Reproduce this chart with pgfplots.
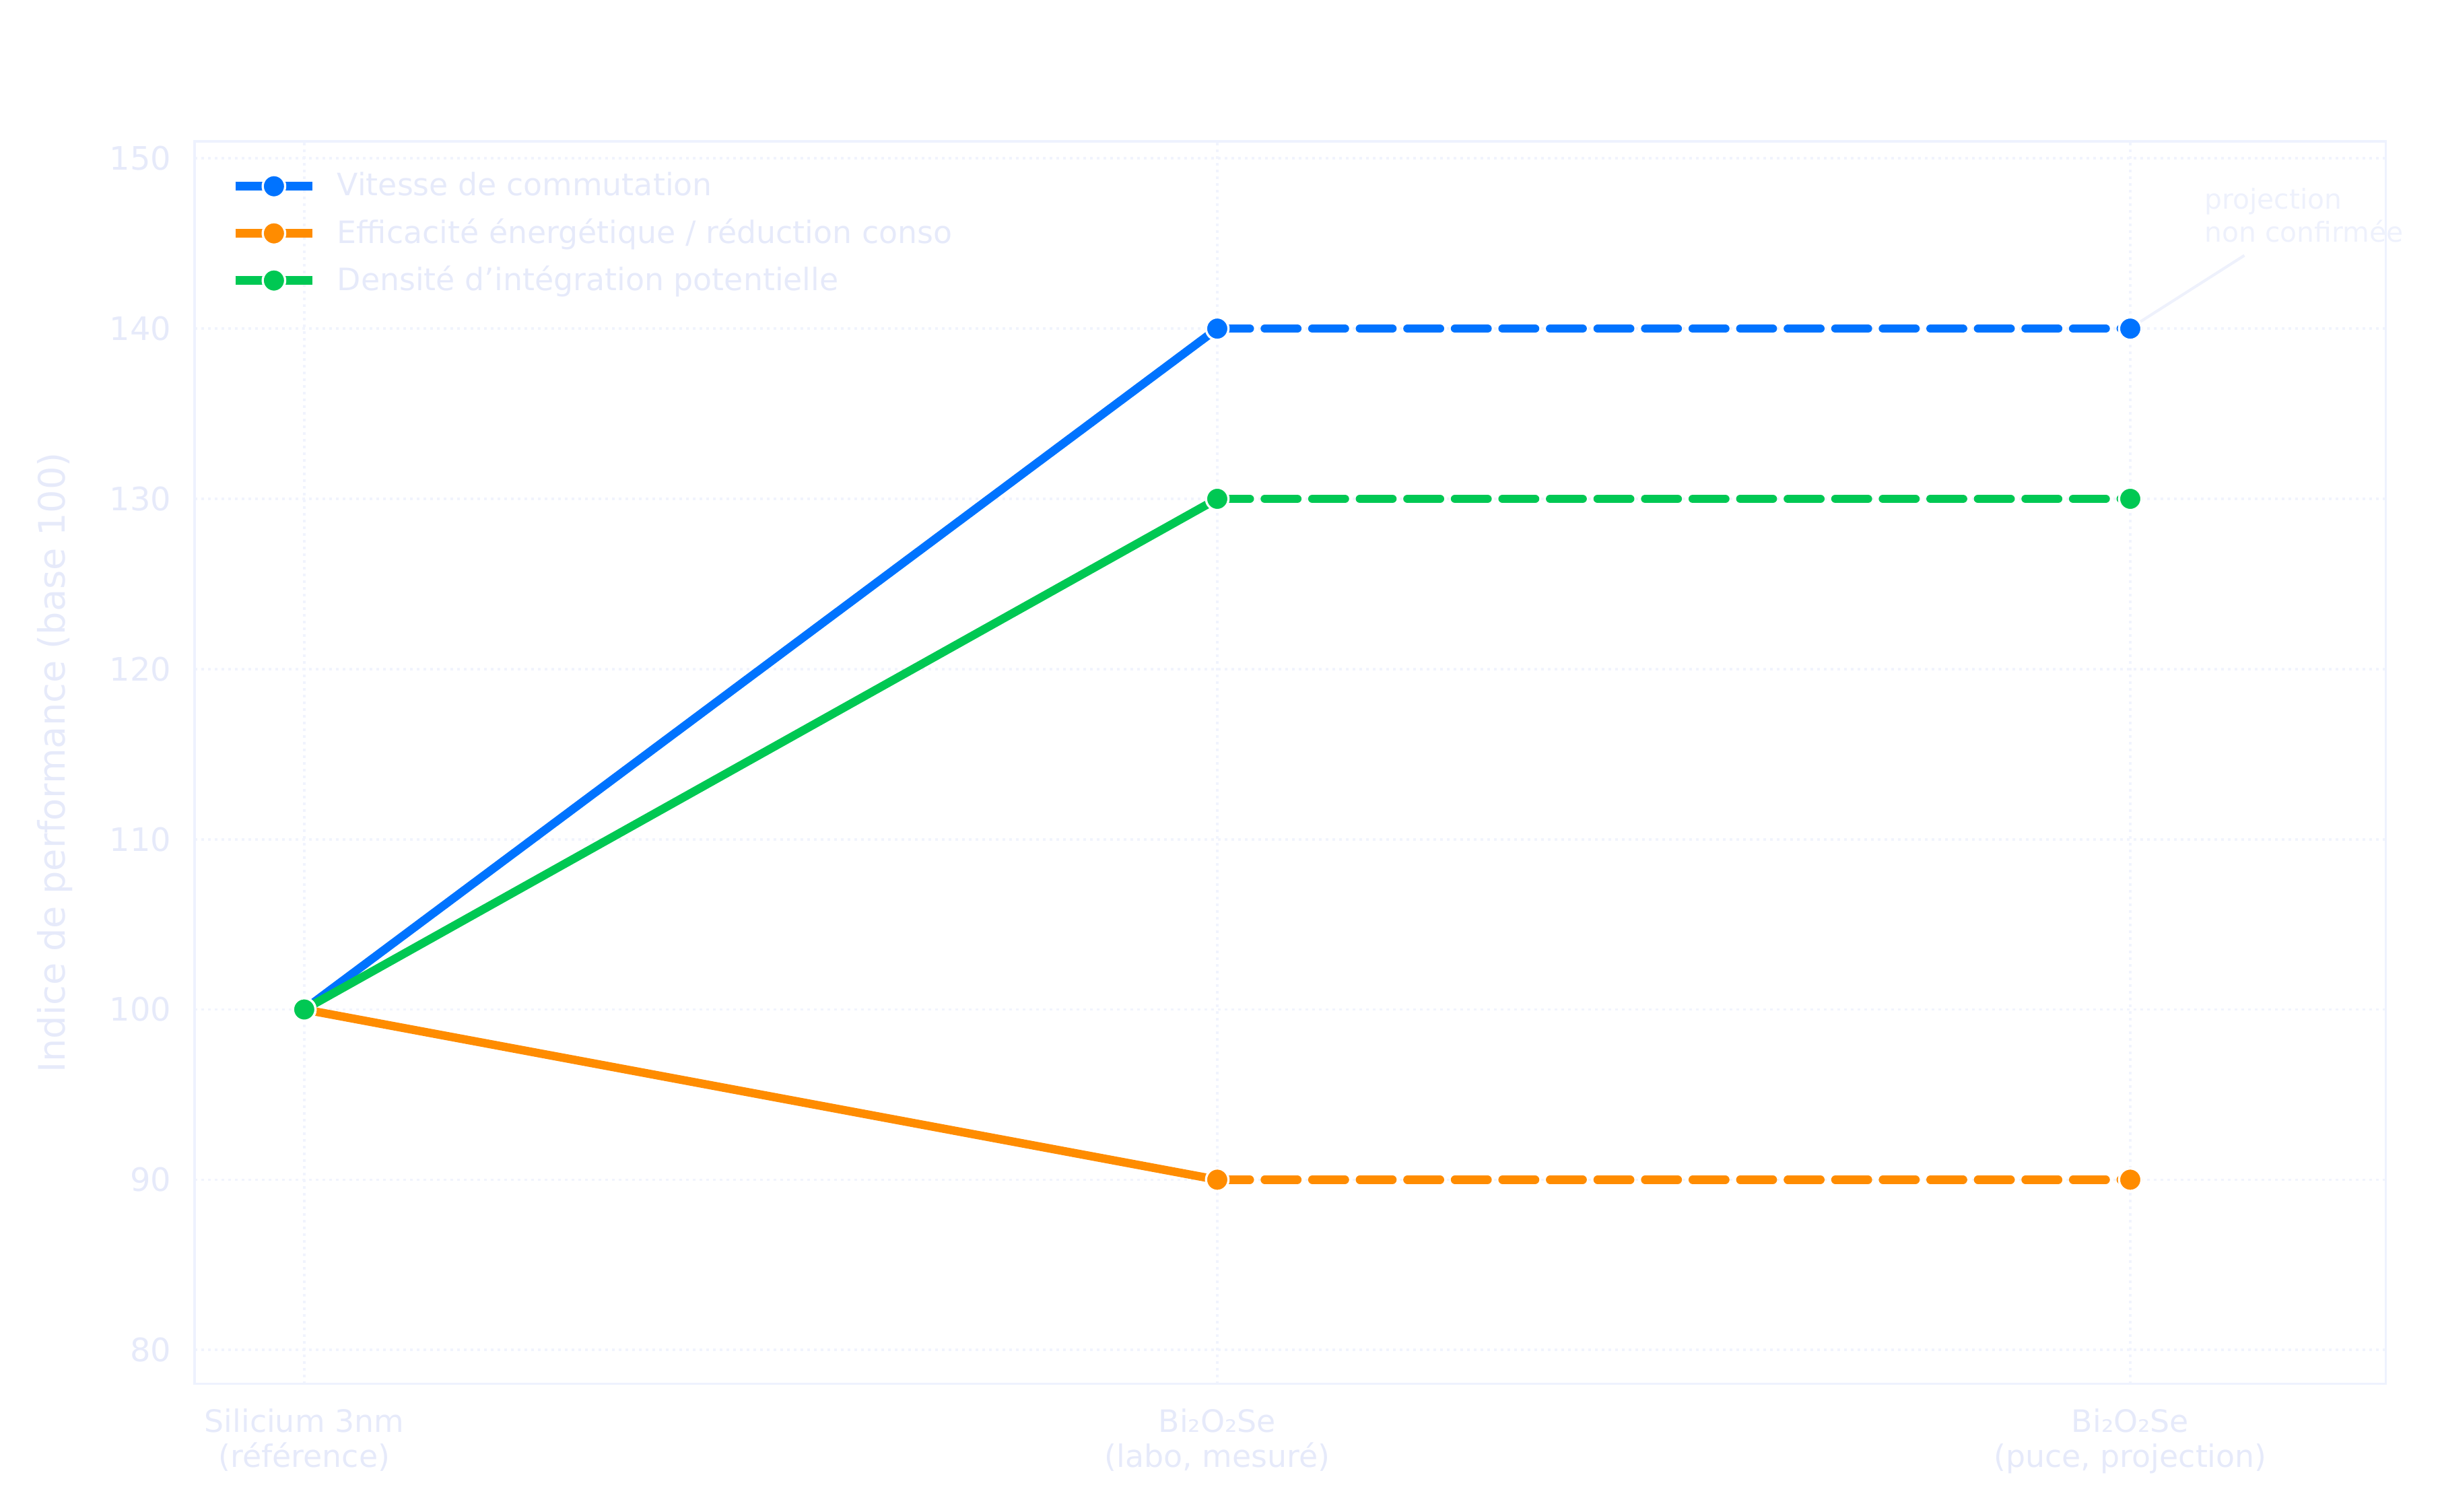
\documentclass[border=0pt]{standalone}
\usepackage{fontspec}
\setmainfont{DejaVu Sans}
\usepackage{pgfplots}
\pgfplotsset{compat=1.18}

\definecolor{cblue}{HTML}{0073FF}
\definecolor{corange}{HTML}{FF8C00}
\definecolor{cgreen}{HTML}{00C853}
\definecolor{ctext}{HTML}{E6EAFA}
\definecolor{cspine}{HTML}{EEF2FE}
\definecolor{cgrid}{HTML}{F1F4FD}
\definecolor{cann}{HTML}{EEF1FC}

\pgfplotsset{
  serie/.style={#1, line width=3pt, mark=*, mark size=4pt,
    mark options={solid, fill=#1, draw=white, line width=0.8pt}},
  proj/.style={#1, line width=3pt, line cap=round, dash pattern=on 11.6pt off 5.35pt},
}

\begin{document}
\begin{tikzpicture}
\begin{axis}[
  width=781.1pt, height=443pt, scale only axis,
  xmin=-0.12, xmax=2.28, ymin=78, ymax=151,
  xtick={0,1,2},
  xticklabels={{Silicium 3nm\\(référence)},{Bi₂O₂Se\\(labo, mesuré)},{Bi₂O₂Se\\(puce, projection)}},
  ytick={80,90,...,150},
  axis line style={cspine, line width=0.8pt},
  major tick length=0pt,
  grid=major,
  major grid style={cgrid, line width=0.9pt, dash pattern=on 1pt off 1.4pt},
  tick label style={text=ctext},
  xticklabel style={font=\fontsize{11}{12.3}\selectfont, align=center, anchor=base, inner sep=0pt, yshift=-29.6pt},
  yticklabel style={font=\fontsize{11.5}{13}\selectfont, anchor=east, inner sep=0pt, xshift=-8.2pt},
  /pgf/number format/assume math mode=true,
  clip=false,
  legend style={at={(rel axis cs:0,1)}, anchor=north west, xshift=12.8pt, yshift=-7.4pt,
    draw=none, fill=none, inner sep=0pt, row sep=0pt, column sep=7.3pt,
    font=\fontsize{11}{13}\selectfont,
    nodes={inner sep=0pt, minimum height=16.8pt, text=ctext}},
  legend cell align=left,
  legend image code/.code={
    \draw[#1, mark=none, solid, line cap=butt] (0pt,0pt) -- (27.5pt,0pt);
    \draw[#1, only marks] plot coordinates {(13.75pt,0pt)};
  },
]
\coordinate (bl) at (rel axis cs:0,0);

\addlegendimage{serie=cblue}
\addlegendentry{Vitesse de commutation}
\addlegendimage{serie=corange}
\addlegendentry{Efficacité énergétique / réduction conso}
\addlegendimage{serie=cgreen}
\addlegendentry{Densité d’intégration potentielle}

% Vitesse de commutation
\addplot[cblue, line width=3pt, forget plot] coordinates {(0,100) (1,140)};
\addplot[proj=cblue, forget plot] coordinates {(1,140) (2,140)};
\addplot[serie=cblue, only marks, forget plot] coordinates {(0,100) (1,140) (2,140)};

% Efficacite energetique
\addplot[corange, line width=3pt, forget plot] coordinates {(0,100) (1,90)};
\addplot[proj=corange, forget plot] coordinates {(1,90) (2,90)};
\addplot[serie=corange, only marks, forget plot] coordinates {(0,100) (1,90) (2,90)};

% Densite d'integration
\addplot[cgreen, line width=3pt, forget plot] coordinates {(0,100) (1,130)};
\addplot[proj=cgreen, forget plot] coordinates {(1,130) (2,130)};
\addplot[serie=cgreen, only marks, forget plot] coordinates {(0,100) (1,130) (2,130)};

% annotation
\draw[cann, line width=1pt] (axis cs:2.005,140.2) -- (axis cs:2.125,144.3);
\node[anchor=base west, inner sep=0pt, text=cann, font=\fontsize{9.8}{11}\selectfont]
  at (axis cs:2.081,147.03) {projection};
\node[anchor=base west, inner sep=0pt, text=cann, font=\fontsize{9.8}{11}\selectfont]
  at (axis cs:2.081,145.1) {non confirmée};

\node[rotate=90, anchor=base, inner sep=0pt, text=ctext, font=\fontsize{13}{15}\selectfont]
  at ([xshift=-46.2pt]rel axis cs:0,0.5) {Indice de performance (base 100)};
\end{axis}
\pgfresetboundingbox
\path[use as bounding box] ([shift={(-69.4pt,-45.6pt)}]bl) rectangle ([shift={(801.1pt,493.4pt)}]bl);
\end{tikzpicture}
\end{document}
